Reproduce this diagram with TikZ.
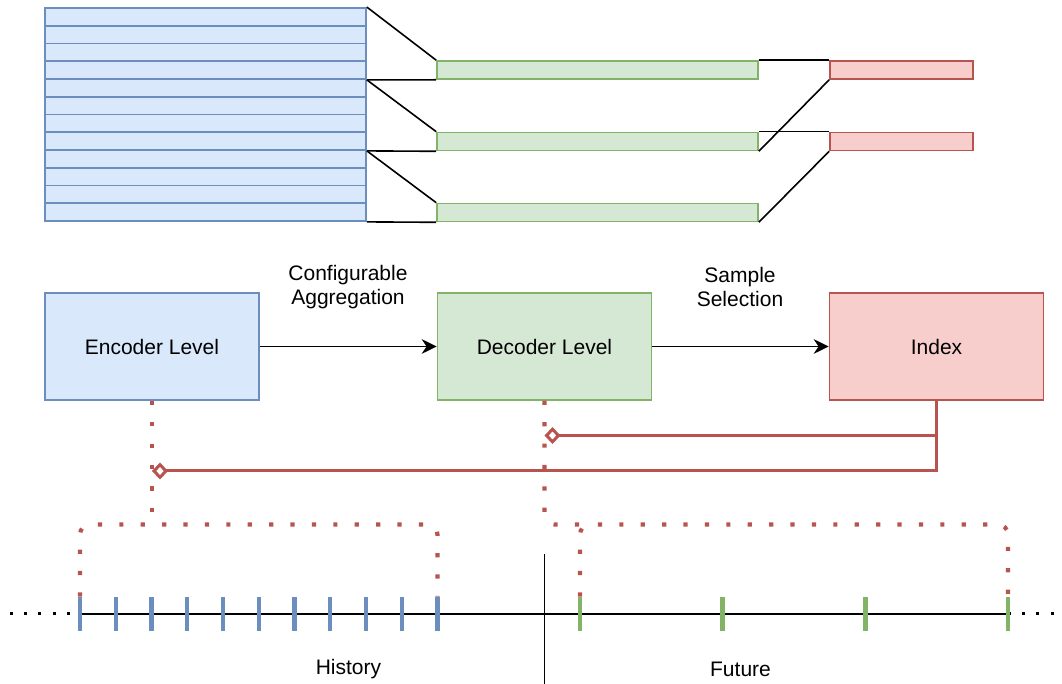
\documentclass[tikz,border=0pt]{standalone}
\usepackage{fontspec}
\setmainfont{Liberation Sans}
\usepackage{tikz}
\usetikzlibrary{arrows.meta,backgrounds}

\definecolor{encfill}{HTML}{DAE8FC}
\definecolor{encline}{HTML}{6C8EBF}
\definecolor{decfill}{HTML}{D5E8D4}
\definecolor{decline}{HTML}{82B366}
\definecolor{idxfill}{HTML}{F8CECC}
\definecolor{idxline}{HTML}{B85450}

\begin{document}
\begin{tikzpicture} [x=0.5pt, y=-0.5pt,
				level/.style={
				% The shape:
				rectangle,
				% The size:
      				minimum width=107pt, minimum height=53.5pt,
				% The border:
      				line width=0.75pt,
				font=\fontsize{10.5}{12.4}\selectfont
    				},
				row/.style={
				% The shape:
				rectangle, inner sep=0pt,
				% The size:
      				minimum width=160.5pt, minimum height=8.875pt,
				% The border:
      				line width=0.9pt, draw=encline,
      				% The filling:
				fill=encfill
    				},
				agg/.style={
				rectangle, inner sep=0pt,
      				minimum width=160.5pt, minimum height=9pt,
      				line width=0.8pt, draw=decline,
				fill=decfill
    				},
				sel/.style={
				rectangle, inner sep=0pt,
      				minimum width=71.5pt, minimum height=9pt,
      				line width=0.8pt, draw=idxline,
				fill=idxfill
    				},
				tick/.style={
				rectangle, inner sep=0pt,
      				minimum width=2.2pt, minimum height=17pt
    				},
				link/.style={draw=black, line width=0.8pt},
				flow/.style={draw=black, line width=0.9pt, -{Stealth[length=7.5pt, width=7.3pt, inset=2.4pt]}},
				owner/.style={draw=idxline, line width=1.5pt, -{Diamond[open, length=8pt, width=8.5pt]}},
				window/.style={draw=idxline, line width=2.1pt, dash pattern=on 2.1pt off 8.6pt, rounded corners=5pt},
				axisdots/.style={draw=black, line width=1.5pt, dash pattern=on 1.5pt off 5.6pt},
				]
    \tikzstyle{caption} = [align=center, font=\fontsize{10.5}{12.4}\selectfont]
    \useasboundingbox (0,0) rectangle (1062,684);

    % encoder rows
    \foreach \i in {1,...,12}
	\node [row] (row\i) at (205.5, {8+17.75*(\i-0.5)}) {};

    % decoder bars and index bars
    \node [agg] (agg1) at (597.5,70) {};
    \node [agg] (agg2) at (597.5,141.5) {};
    \node [agg] (agg3) at (597.5,212.5) {};
    \node [sel] (sel1) at (901.5,70) {};
    \node [sel] (sel2) at (901.5,141.5) {};

    \draw [link] (row1.north east) -- (agg1.north west);
    \draw [link] (row4.south east) -- (agg1.south west);
    \draw [link] (row4.south east) -- (agg2.north west);
    \draw [link] (row8.south east) -- (agg2.south west);
    \draw [link] (row8.south east) -- (agg3.north west);
    \draw [link] (row12.south east) -- (agg3.south west);
    \draw [link] (agg1.north east) -- (sel1.north west);
    \draw [link] (agg2.south east) -- (sel1.south west);
    \draw [link] (agg2.north east) -- (sel2.north west);
    \draw [link] (agg3.south east) -- (sel2.south west);

    % levels
    \node [level, draw=encline, fill=encfill] (enc) at (152,346.5) {Encoder Level};
    \node [level, draw=decline, fill=decfill] (dec) at (544.5,346.5) {Decoder Level};
    \node [level, draw=idxline, fill=idxfill] (idx) at (936.5,346.5) {Index};
    \node [caption] (cfg) at (348,287) {Configurable\\Aggregation};
    \node [caption] (smp) at (740,287) {Sample\\Selection};
    \draw [flow] (enc) -- (dec);
    \draw [flow] (dec) -- (idx);

    % time axis
    \foreach \i in {1,...,11}
	\node [tick, fill=encline] (h\i) at ({80+35.75*(\i-1)},614) {};
    \foreach \i in {1,...,4}
	\node [tick, fill=decline] (f\i) at ({580+142.67*(\i-1)},614) {};
    \coordinate (tl) at (10,614);
    \coordinate (tr) at (1055,614);
    \begin{scope}[on background layer]
	\draw [line width=0.85pt] (h1.center) -- (f4.center);
	\draw [axisdots] (tl) -- (h1.center);
	\draw [axisdots] (f4.center) -- (tr);
    \end{scope}
    \coordinate (nowtop) at (544.5,554);
    \coordinate (nowbot) at (544.5,684);
    \draw [draw=black, line width=0.75pt] (nowtop) -- (nowbot);
    \node [caption] (hist) at (348.5,669) {History};
    \node [caption] (fut) at (740.5,669) {Future};

    % windows
    \coordinate (htop) at (152,524.5);
    \coordinate (ftop) at (794,524.5);
    \draw [window] (h1.north) |- (htop) -| (h11.north);
    \draw [window] (enc.south) -- (htop);
    \draw [window] (f1.north) |- (ftop) -| (f4.north);
    \draw [window] (dec.south) |- (f1.north |- ftop);

    % ownership
    \coordinate (encpin) at (152,471);
    \coordinate (decpin) at (544.5,435.5);
    \draw [owner] (idx.south) |- (encpin);
    \draw [owner] (idx.south) |- (decpin);
\end{tikzpicture}
\end{document}
